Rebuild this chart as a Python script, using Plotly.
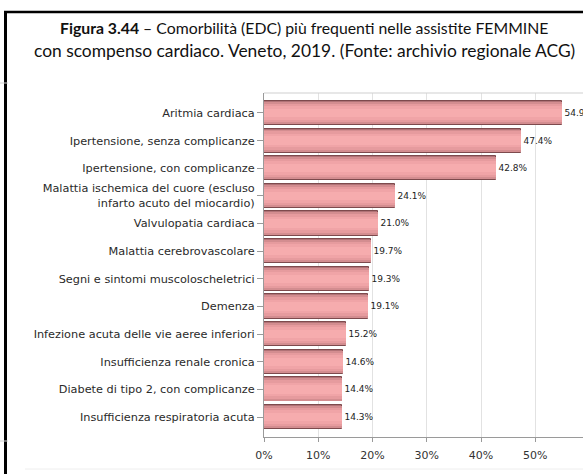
import plotly.graph_objects as go

# Comorbidità (EDC) più frequenti – assistite femmine con scompenso cardiaco
categorie = [
    "Aritmia cardiaca",
    "Ipertensione, senza complicanze",
    "Ipertensione, con complicanze",
    "Malattia ischemica del cuore (escluso<br>infarto acuto del miocardio)",
    "Valvulopatia cardiaca",
    "Malattia cerebrovascolare",
    "Segni e sintomi muscoloscheletrici",
    "Demenza",
    "Infezione acuta delle vie aeree inferiori",
    "Insufficienza renale cronica",
    "Diabete di tipo 2, con complicanze",
    "Insufficienza respiratoria acuta",
]
percentuali = [54.9, 47.4, 42.8, 24.1, 21.0, 19.7, 19.3, 19.1, 15.2, 14.6, 14.4, 14.3]
x_ticks = [0, 10, 20, 30, 40, 50]
x_tick_labels = ["0%", "10%", "20%", "30%", "40%", "50%"]

W, H = 583, 474
ML, MR, MT, MB = 264, 0, 93, 37
PW, PH = W - ML - MR, H - MT - MB


def px_x(px):
    """Pixel column -> paper x."""
    return (px - ML) / PW


def px_y(py):
    """Pixel row -> paper y."""
    return 1 - (py - MT) / PH


fig = go.Figure()

# Bars drawn as stacked overlay layers to give the shaded, cylinder-like look
layers = [
    (0.87, "#b07276", dict(color="#7d4a4d", width=1)),
    (0.80, "#d38d90", dict(width=0)),
    (0.66, "#e69b9e", dict(width=0)),
    (0.50, "#f0a4a7", dict(width=0)),
    (0.30, "#f6acae", dict(width=0)),
]
for i, (w, col, ln) in enumerate(layers):
    fig.add_trace(go.Bar(
        x=percentuali, y=categorie, orientation="h",
        width=w, marker=dict(color=col, line=ln),
        text=[f"{v:.1f}%" for v in percentuali] if i == 0 else None,
        textposition="outside" if i == 0 else "none",
        textfont=dict(family="DejaVu Sans", size=9, color="#222222"),
        cliponaxis=True,
        hoverinfo="skip", showlegend=False,
    ))

fig.update_layout(
    width=W, height=H,
    margin=dict(l=ML, r=MR, t=MT, b=MB),
    paper_bgcolor="white", plot_bgcolor="white",
    barmode="overlay", bargap=0,
    font=dict(family="DejaVu Sans", size=11, color="#222222"),
)
fig.update_xaxes(
    range=[0, 58.8], tickvals=x_ticks, ticktext=x_tick_labels,
    showgrid=True, gridcolor="#e2e2e2", gridwidth=1,
    zeroline=False, showline=True, linecolor="#9a9a9a", linewidth=1,
    ticks="outside", ticklen=4, tickcolor="#9a9a9a",
    ticklabelstandoff=4,
    tickfont=dict(family="DejaVu Sans", size=11, color="#333333"),
)
fig.update_yaxes(
    categoryorder="array", categoryarray=categorie,
    range=[11.72, -0.72], autorange=False,
    showgrid=False, zeroline=False, showline=True,
    linecolor="#9a9a9a", linewidth=1,
    ticks="outside", ticklen=6, tickcolor="#9a9a9a",
    tickfont=dict(family="DejaVu Sans", size=11.3, color="#2a2a2a"),
)

# Top border of the plot area
fig.add_shape(type="line", xref="paper", yref="paper", x0=0, x1=1, y0=1, y1=1,
              line=dict(color="#cfcfcf", width=1))

# Page frame lines
fig.add_shape(type="line", xref="paper", yref="paper",
              x0=px_x(4), x1=px_x(W + 2), y0=px_y(12), y1=px_y(12),
              line=dict(color="black", width=2.5))
fig.add_shape(type="line", xref="paper", yref="paper",
              x0=px_x(5.5), x1=px_x(5.5), y0=px_y(H + 2), y1=px_y(11),
              line=dict(color="black", width=3))
fig.add_shape(type="line", xref="paper", yref="paper",
              x0=px_x(25), x1=px_x(W), y0=px_y(469), y1=px_y(469),
              line=dict(color="#eeeeee", width=1))
fig.add_shape(type="line", xref="paper", yref="paper",
              x0=px_x(0), x1=px_x(8), y0=px_y(83), y1=px_y(83),
              line=dict(color="#d0d0d0", width=1))
fig.add_shape(type="line", xref="paper", yref="paper",
              x0=px_x(0), x1=px_x(8), y0=px_y(441), y1=px_y(441),
              line=dict(color="#d0d0d0", width=1))

# Caption, two lines
fig.add_annotation(
    xref="paper", yref="paper",
    x=px_x(304), y=px_y(28),
    xanchor="center", yanchor="middle",
    text="<b>Figura 3.44</b> – Comorbilità (EDC) più frequenti nelle assistite FEMMINE",
    showarrow=False, align="center",
    font=dict(family="Lato", size=15.8, color="#111111"),
)
fig.add_annotation(
    xref="paper", yref="paper",
    x=px_x(304), y=px_y(50),
    xanchor="center", yanchor="middle",
    text="con scompenso cardiaco. Veneto, 2019. (Fonte: archivio regionale ACG)",
    showarrow=False, align="center",
    font=dict(family="Lato", size=17.4, color="#111111"),
)

fig.write_html("out.html")
